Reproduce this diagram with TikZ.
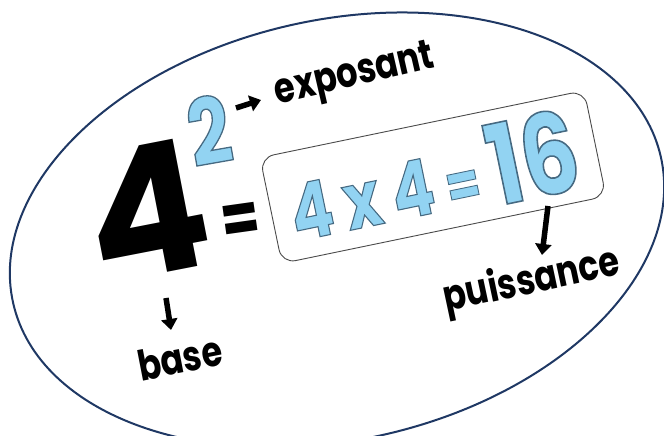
\documentclass[tikz,border=0pt]{standalone}
\usepackage{fontspec}
\setmainfont{Poppins}[FakeStretch=0.8]
\newfontfamily\skyfont{Poppins}[FakeStretch=0.8, FakeBold=1.4]
\newfontfamily\wideface{Poppins}
\usepackage{xcolor}
\usetikzlibrary{positioning,arrows.meta}
\definecolor{ringnavy}{HTML}{1F3864}
\definecolor{skyfill}{HTML}{92D3F2}
\definecolor{boxline}{HTML}{4A4A4A}
% light blue fill, darker stroke round the glyphs
\newcommand{\sky}[1]{\special{pdf:bcolor [0.573 0.827 0.949] [0.275 0.416 0.51]}#1\special{pdf:ecolor}}
\tikzset{
  ring/.style={draw=ringnavy, line width=2pt},
  bignum/.style={font=\wideface\bfseries\fontsize{180}{180}\selectfont, inner sep=0pt, rotate=11},
  supnum/.style={text=skyfill, font=\skyfont\bfseries\fontsize{92}{92}\selectfont, inner sep=0pt, rotate=10},
  eqsign/.style={font=\bfseries\fontsize{70}{70}\selectfont, inner sep=0pt, rotate=8},
  tag/.style={font=\bfseries\fontsize{42}{42}\selectfont, inner sep=0pt},
  resbox/.style={draw=boxline, line width=0.9pt, rounded corners=14pt,
                 minimum width=331pt, minimum height=108pt, rotate=11.7,
                 text=skyfill, font=\skyfont\bfseries, inner sep=0pt},
  pointer/.style={-{Triangle[length=11pt,width=16pt]}, line width=5.5pt},
}

\begin{document}
\begin{tikzpicture}[x=1pt,y=1pt]
  \useasboundingbox (0,0) rectangle (664,436);
  \begin{scope}
    \clip (0,0) rectangle (664,436);
    \draw[ring, rotate around={12.7:(337,206)}] (337,206) ellipse [x radius=332, y radius=210];
  \end{scope}

  % the power
  \node[bignum] (base4) at (147,226) {4};
  \node[supnum] (expo2) at (209,306) {\sky{2}};
  \node[eqsign] (eq) at (241,212) {=};
  \node[resbox] (res) at (433,259)
       {\sky{\fontsize{78}{78}\selectfont 4\kern12pt x\kern12pt 4\kern12pt
        {\fontsize{62}{62}\selectfont =}\kern11pt{\fontsize{112}{112}\selectfont\raisebox{-6pt}{16}}}};

  % labels
  \node[tag, rotate=13] (expolbl) at (355,359) {exposant};
  \node[tag, rotate=11] (baselbl) at (180,78) {base};
  \node[tag, rotate=12] (powlbl) at (532,154) {puissance};

  \coordinate (expoA) at (236,328);
  \coordinate (expoB) at (261,336);
  \coordinate (baseA) at (166,138);
  \coordinate (baseB) at (171,106);
  \coordinate (powA) at (548,230);
  \coordinate (powB) at (542,181);
  \draw[pointer] (expoA) -- (expoB);
  \draw[pointer] (baseA) -- (baseB);
  \draw[pointer] (powA) -- (powB);
\end{tikzpicture}
\end{document}
